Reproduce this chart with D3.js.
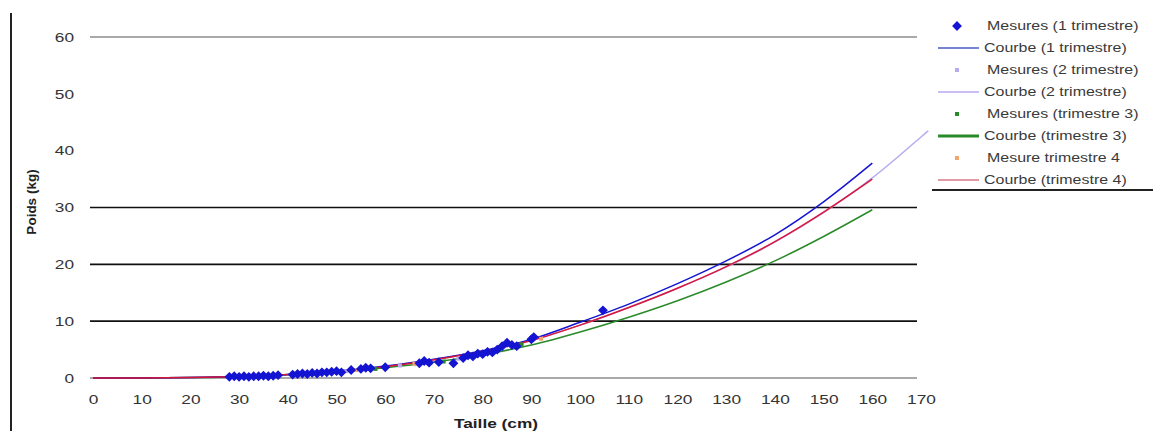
<html>
  <head>
    <script src="https://d3js.org/d3.v7.min.js" charset="utf-8"></script>
    <style type="text/css">
      body { margin: 0; padding: 0; background: #fff; }
      svg { display: block; }
      text { font-family: "Liberation Sans", Arial, sans-serif; }
    </style>
  </head>
  <body>
    <div id="chart"></div>
    <script type="text/javascript">
      // data
      var tailles = [0, 10, 20, 30, 40, 50, 60, 70, 80, 90, 100, 110, 120, 130, 140, 150, 160];
      var courbe1 = [0, 0.01, 0.08, 0.26, 0.62, 1.25, 2.1, 3.3, 4.8, 6.8, 9.8, 13.0, 16.6, 20.6, 25.2, 31.0, 37.8];
      var courbe2 = [0, 0.01, 0.08, 0.25, 0.6, 1.2, 2.0, 3.2, 4.7, 6.6, 9.3, 12.4, 15.8, 19.5, 23.9, 29.1, 35.2, 42.4, 43.5];
      var tailles2 = [0, 10, 20, 30, 40, 50, 60, 70, 80, 90, 100, 110, 120, 130, 140, 150, 160, 170, 171.5];
      var courbe3 = [0, 0.01, 0.07, 0.22, 0.55, 1.05, 1.8, 2.8, 4.1, 5.8, 8.1, 10.7, 13.6, 16.9, 20.6, 24.9, 29.6];
      var courbe4 = [0, 0.01, 0.08, 0.25, 0.6, 1.2, 2.0, 3.2, 4.7, 6.6, 9.3, 12.4, 15.8, 19.6, 24.0, 29.2, 35.0];

      var mesures1 = [[28,0.2],[29,0.3],[30,0.2],[31,0.3],[32,0.2],[33,0.3],[34,0.3],[35,0.4],[36,0.3],[37,0.4],[38,0.5],
        [41,0.6],[42,0.7],[43,0.8],[44,0.7],[45,0.9],[46,0.8],[47,1.0],[48,1.0],[49,1.1],[50,1.2],[51,1.0],
        [53,1.4],[55,1.6],[56,1.8],[57,1.7],[60,1.9],[67,2.6],[68,3.0],[69,2.7],[71,2.8],[74,2.6],
        [76,3.5],[77,4.0],[78,3.8],[79,4.3],[80,4.2],[81,4.6],[82,4.5],[83,5.0],[84,5.6],[85,6.2],[86,5.8],[87,5.6],
        [90,6.8],[90.5,7.2],[104.7,11.9]];
      var mesures2 = [[52,1.2],[63,2.2],[75,3.4]];
      var mesures3 = [[58,1.6],[72,2.9],[88,5.9]];
      var mesures4 = [[54,1.4],[66,2.5],[92,6.9]];

      var xTicks = [0, 10, 20, 30, 40, 50, 60, 70, 80, 90, 100, 110, 120, 130, 140, 150, 160, 170];
      var yTicks = [0, 10, 20, 30, 40, 50, 60];
      var gridValues = [0, 10, 20, 30, 60];

      var legendLabels = ["Mesures (1 trimestre)", "Courbe (1 trimestre)", "Mesures (2 trimestre)", "Courbe (2 trimestre)",
        "Mesures (trimestre 3)", "Courbe (trimestre 3)", "Mesure trimestre 4", "Courbe (trimestre 4)"];

      var col1 = "#1414d2", col2 = "#b9a9ee", col3 = "#2a8a2a", col4 = "#d8163c";

      var width = 1153, height = 431;
      var svg = d3.select("#chart").append("svg").attr("width", width).attr("height", height);

      var x = d3.scaleLinear().domain([0, 170]).range([93, 921]);
      var y = d3.scaleLinear().domain([0, 60]).range([378, 37]);
      var stretch = "scale(1.33,1)";

      // left border
      svg.append("line").attr("x1", 11).attr("x2", 11).attr("y1", 13).attr("y2", height)
        .attr("stroke", "#222").attr("stroke-width", 2);

      // gridlines
      svg.selectAll(".grid").data(gridValues).enter().append("line")
        .attr("x1", x(0) - 3).attr("x2", x(170) - 4)
        .attr("y1", function(d) { return y(d); }).attr("y2", function(d) { return y(d); })
        .attr("stroke", function(d) { return (d == 0 || d == 60) ? "#555" : "#111"; })
        .attr("stroke-width", function(d) { return (d == 0 || d == 60) ? 1.2 : 1.6; });

      // axes
      var xAxis = svg.append("g").attr("transform", "translate(0,395)")
        .call(d3.axisBottom(x).tickValues(xTicks).tickSize(0).tickPadding(0));
      xAxis.select(".domain").remove();
      xAxis.selectAll("text").attr("font-size", 13).attr("fill", "#333").attr("dy", "0.71em")
        .attr("transform", stretch);

      var yAxis = svg.append("g").attr("transform", "translate(74,0)")
        .call(d3.axisLeft(y).tickValues(yTicks).tickSize(0).tickPadding(0));
      yAxis.select(".domain").remove();
      yAxis.selectAll("text").attr("font-size", 13).attr("fill", "#333").attr("transform", stretch);

      svg.append("text").attr("transform", "translate(496,423) " + stretch)
        .attr("text-anchor", "middle").attr("dy", "0.35em")
        .attr("font-size", 13).attr("font-weight", "bold").attr("fill", "#222").text("Taille (cm)");

      svg.append("text").attr("transform", "translate(31,202) rotate(-90)")
        .attr("text-anchor", "middle").attr("dy", "0.35em")
        .attr("font-size", 13.5).attr("font-weight", "bold").attr("fill", "#222").text("Poids (kg)");

      // curves
      var line = d3.line().curve(d3.curveMonotoneX)
        .x(function(d) { return x(d[0]); }).y(function(d) { return y(d[1]); });
      function pairs(xs, ys) { return xs.map(function(v, i) { return [v, ys[i]]; }); }

      var curves = [
        { data: pairs(tailles2, courbe2), color: col2, w: 1.5 },
        { data: pairs(tailles, courbe3), color: col3, w: 1.5 },
        { data: pairs(tailles, courbe1), color: col1, w: 1.5 },
        { data: pairs(tailles, courbe4), color: col4, w: 1.5 }
      ];
      svg.selectAll(".curve").data(curves).enter().append("path")
        .attr("d", function(c) { return line(c.data); })
        .attr("fill", "none").attr("stroke", function(c) { return c.color; })
        .attr("stroke-width", function(c) { return c.w; });

      // small measurements (mostly hidden)
      var small = [[mesures2, col2], [mesures3, col3], [mesures4, "#f2a46a"]];
      small.forEach(function(s) {
        svg.selectAll(null).data(s[0]).enter().append("rect")
          .attr("x", function(d) { return x(d[0]) - 2; }).attr("y", function(d) { return y(d[1]) - 2; })
          .attr("width", 4).attr("height", 4).attr("fill", s[1]);
      });

      // blue diamonds: a square turned 45 degrees
      var diamond = d3.symbol().type(d3.symbolSquare).size(30);
      svg.selectAll(".m1").data(mesures1).enter().append("path")
        .attr("d", diamond)
        .attr("transform", function(d) { return "translate(" + x(d[0]) + "," + y(d[1]) + ") rotate(45)"; })
        .attr("fill", col1).attr("stroke", col1).attr("stroke-width", 1.5);

      // legend
      var legend = svg.append("g");
      var items = legend.selectAll("g").data(legendLabels).enter().append("g")
        .attr("transform", function(d, i) { return "translate(0," + (26 + i * 22) + ")"; });
      items.append("text").attr("x", 0).attr("dy", "0.35em")
        .attr("transform", function(d, i) { return "translate(" + (i % 2 ? 984 : 987) + ",0) " + stretch; })
        .attr("font-size", 12).attr("fill", "#3a3a3a").text(function(d) { return d; });

      var legendColors = [col1, "#4a5ac0", col2, col2, col3, col3, "#f2a46a", "#d87a86"];
      items.each(function(d, i) {
        var g = d3.select(this);
        if (i % 2) {
          g.append("line").attr("x1", 938).attr("x2", 979).attr("y1", 0).attr("y2", 0)
            .attr("stroke", legendColors[i]).attr("stroke-width", i == 5 ? 3 : 1.5);
        } else if (i == 0) {
          g.append("path").attr("d", diamond).attr("transform", "translate(957,0) rotate(45)")
            .attr("fill", col1).attr("stroke", col1).attr("stroke-width", 1.5);
        } else {
          g.append("rect").attr("x", 955).attr("y", -2).attr("width", 4).attr("height", 4)
            .attr("fill", legendColors[i]);
        }
      });
      legend.append("line").attr("x1", 932).attr("x2", width).attr("y1", 190).attr("y2", 190)
        .attr("stroke", "#222").attr("stroke-width", 2);
    </script>
  </body>
</html>
